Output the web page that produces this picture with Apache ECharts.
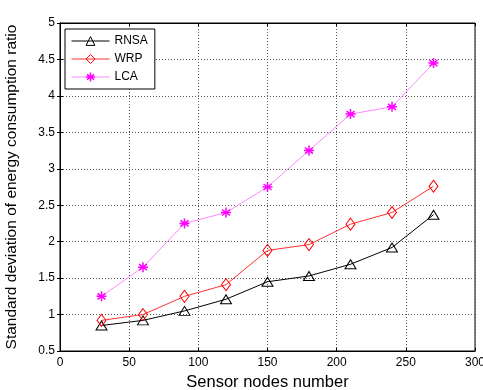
<!DOCTYPE html>
<html>
<head>
<meta charset="utf-8">
<script src="https://cdn.jsdelivr.net/npm/echarts@6/dist/echarts.min.js"></script>
<style>
  html, body { margin: 0; padding: 0; background: #fff; }
  #main { width: 483px; height: 390px; }
</style>
</head>
<body>
<div id="main"></div>
<script>
// data
var nodes = [30, 60, 90, 120, 150, 180, 210, 240, 270];
var rnsa = [0.85, 0.92, 1.05, 1.21, 1.45, 1.53, 1.69, 1.92, 2.37];
var wrp = [0.92, 1.00, 1.25, 1.41, 1.88, 1.96, 2.24, 2.40, 2.76];
var lca = [1.25, 1.65, 2.25, 2.40, 2.75, 3.25, 3.75, 3.85, 4.45];

function pairs(ys) {
  return nodes.map(function (x, i) { return [x, ys[i]]; });
}

var chart = echarts.init(document.getElementById('main'));
var font = 'Liberation Sans, Arial, sans-serif';
var gridLine = { show: true, lineStyle: { color: '#555', type: [1, 2], width: 1 } };

var star = 'path://M0,-10L0,10M-10,0L10,0M-8,-6L8,6M-8,6L8,-6';

var option = {
  animation: false,
  grid: {
    left: 60, right: 8, top: 23, bottom: 39,
    outerBoundsMode: 'none', containLabel: false,
    show: true, borderColor: '#000', borderWidth: 1
  },
  legend: {
    left: 65, top: 29,
    orient: 'vertical',
    itemWidth: 38, itemHeight: 11, itemGap: 6,
    padding: [6, 7, 6, 6],
    borderColor: '#000', borderWidth: 1, backgroundColor: '#fff',
    textStyle: { fontFamily: font, fontSize: 12, color: '#000' },
    lineStyle: { width: 1 },
    data: [
      { name: 'RNSA', itemStyle: { color: 'rgba(255,255,255,0)', borderColor: '#000', borderWidth: 1 } },
      { name: 'WRP', itemStyle: { color: 'rgba(255,255,255,0)', borderColor: '#ff0000', borderWidth: 1 } },
      { name: 'LCA', itemStyle: { color: 'rgba(255,255,255,0)', borderColor: '#ff00ff', borderWidth: 1.5 } }
    ]
  },
  xAxis: [{
    type: 'value', min: 0, max: 300, interval: 50,
    name: 'Sensor nodes number', nameLocation: 'middle', nameGap: 22,
    nameTextStyle: { fontFamily: font, fontSize: 16.5, color: '#000' },
    axisLine: { lineStyle: { color: '#000' } },
    axisTick: { inside: true, length: 3, lineStyle: { color: '#000' } },
    axisLabel: { fontFamily: font, fontSize: 12, color: '#000', margin: 6 },
    splitLine: gridLine
  }, {
    type: 'value', min: 0, max: 300, interval: 50, position: 'top',
    axisLine: { lineStyle: { color: '#000' } },
    axisTick: { inside: true, length: 3, lineStyle: { color: '#000' } },
    axisLabel: { show: false }, splitLine: { show: false }
  }],
  yAxis: [{
    type: 'value', min: 0.5, max: 5, interval: 0.5,
    name: 'Standard deviation of energy consumption ratio', nameLocation: 'middle', nameGap: 40,
    nameTextStyle: { fontFamily: font, fontSize: 15.5, color: '#000' },
    axisLine: { show: true, lineStyle: { color: '#000' } },
    axisTick: { show: true, inside: true, length: 3, lineStyle: { color: '#000' } },
    axisLabel: { fontFamily: font, fontSize: 12, color: '#000', margin: 5 },
    splitLine: gridLine
  }, {
    type: 'value', min: 0.5, max: 5, interval: 0.5, position: 'right',
    axisLine: { show: true, lineStyle: { color: '#000' } },
    axisTick: { show: true, inside: true, length: 3, lineStyle: { color: '#000' } },
    axisLabel: { show: false }, splitLine: { show: false }
  }],
  series: [{
    name: 'RNSA', type: 'line', data: pairs(rnsa),
    symbol: 'triangle', symbolSize: [11, 9], showAllSymbol: true,
    lineStyle: { color: '#000', width: 1 },
    itemStyle: { color: 'rgba(255,255,255,0)', borderColor: '#000', borderWidth: 1 }
  }, {
    name: 'WRP', type: 'line', data: pairs(wrp),
    symbol: 'diamond', symbolSize: [9, 12],
    lineStyle: { color: '#ff3030', width: 1 },
    itemStyle: { color: 'rgba(255,255,255,0)', borderColor: '#ff0000', borderWidth: 1 }
  }, {
    name: 'LCA', type: 'line', data: pairs(lca),
    symbol: star, symbolSize: [10, 10],
    lineStyle: { color: '#ff88ff', width: 1 },
    itemStyle: { color: 'rgba(255,0,255,0)', borderColor: '#ff00ff', borderWidth: 1.5 }
  }]
};

chart.setOption(option);
</script>
</body>
</html>
